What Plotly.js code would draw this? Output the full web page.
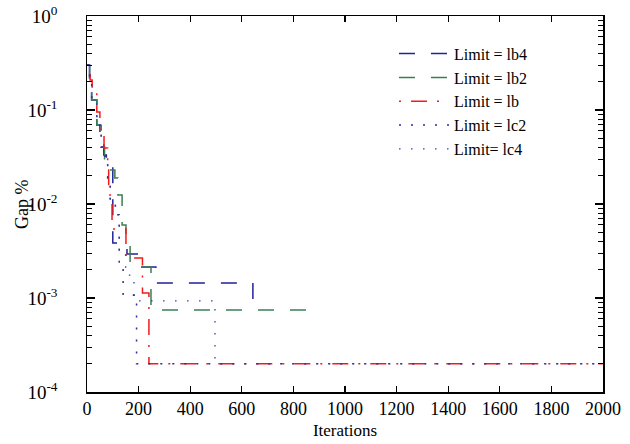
<!DOCTYPE html>
<html>
<head>
<meta charset="utf-8">
<script src="https://cdn.plot.ly/plotly-3.0.1.min.js"></script>
<style>html,body{margin:0;padding:0;background:#fff;}#chart{width:630px;height:444px;}</style>
</head>
<body>
<div id="chart"></div>
<script>
// Data
const names = ["Limit = lb4", "Limit = lb2", "Limit = lb", "Limit = lc2", "Limit= lc4"];

const lb4Iter = [0, 10, 18, 38, 50, 65, 75, 100, 155, 200, 267, 643, 680];
const lb4Gap  = [0.301, 0.209, 0.128, 0.069, 0.0542, 0.0332, 0.026, 0.00385, 0.00294, 0.00214, 0.00144, 0.000863, 0.000863];

const lb2Iter = [0, 10, 18, 38, 55, 68, 80, 108, 120, 136, 151, 167, 248, 900];
const lb2Gap  = [0.301, 0.209, 0.128, 0.069, 0.0403, 0.0294, 0.023, 0.0189, 0.0125, 0.00598, 0.00446, 0.00214, 0.000745, 0.000745];

const lbIter = [0, 12, 20, 38, 50, 66, 80, 84, 97, 151, 215, 240, 2000];
const lbGap  = [0.301, 0.209, 0.152, 0.0952, 0.0612, 0.0394, 0.026, 0.0125, 0.00542, 0.00267, 0.00113, 0.0002, 0.0002];

const lc2Iter = [0, 10, 18, 38, 55, 70, 80, 90, 110, 125, 140, 192, 2000];
const lc2Gap  = [0.301, 0.209, 0.128, 0.069, 0.0403, 0.0309, 0.0189, 0.0105, 0.0077, 0.00241, 0.00107, 0.0002, 0.0002];

const lc4Iter = [0, 10, 18, 38, 55, 70, 80, 90, 110, 125, 150, 182, 496, 2000];
const lc4Gap  = [0.301, 0.209, 0.128, 0.069, 0.0403, 0.0309, 0.0189, 0.0105, 0.0077, 0.00286, 0.00175, 0.00093, 0.0002, 0.0002];

const xTicks = [0, 200, 400, 600, 800, 1000, 1200, 1400, 1600, 1800, 2000];
const yTickVals = [1e-4, 1e-3, 1e-2, 1e-1, 1];
const yTickText = ["10<sup>-4</sup>", "10<sup>-3</sup>", "10<sup>-2</sup>", "10<sup>-1</sup>", "10<sup>0</sup>"];
const yTitle = "Gap %";

// minor tick positions: digits 2..9 inside each decade
const yMinorVals = [];
[1e-4, 1e-3, 1e-2, 1e-1].forEach(d => { for (let k = 2; k <= 9; k++) yMinorVals.push(d * k); });

const FONT = "Liberation Serif, Times New Roman, serif";
const PAD = "\u2002\u2002\u2002";

const traces = [
  {x: lb4Iter, y: lb4Gap, name: names[0], line: {color: "#22229a", width: 1.5, dash: "16px,16px", shape: "hv"}},
  {x: lb2Iter, y: lb2Gap, name: names[1], line: {color: "#3b7d55", width: 1.5, dash: "16px,16px", shape: "hv"}},
  {x: lbIter,  y: lbGap,  name: names[2], line: {color: "#f01c1c", width: 1.5, dash: "2px,10px,16px,10px", shape: "hv"}},
  {x: lc2Iter, y: lc2Gap, name: names[3], line: {color: "#2a2aa0", width: 1.5, dash: "2px,10px", shape: "hv"}},
  {x: lc4Iter, y: lc4Gap, name: names[4], line: {color: "#3a3aa8", width: 1.3, dash: "1.5px,10.5px", shape: "hv"}}
].map(t => Object.assign({type: "scatter", mode: "lines"}, t));

// empty helper traces so the label axis (y2) and minor-tick axis (y3) are drawn
traces.push({type: "scatter", mode: "lines", x: [null], y: [null], yaxis: "y2", showlegend: false, hoverinfo: "skip"});
traces.push({type: "scatter", mode: "lines", x: [null], y: [null], yaxis: "y3", showlegend: false, hoverinfo: "skip"});

const layout = {
  width: 630, height: 444,
  margin: {l: 87, r: 27, t: 16, b: 52},
  paper_bgcolor: "#fff", plot_bgcolor: "#fff",
  font: {family: FONT, size: 18, color: "#000"},
  showlegend: true,
  legend: {x: 0.595, y: 0.945, xanchor: "left", yanchor: "top", bgcolor: "rgba(0,0,0,0)",
           font: {family: FONT, size: 16, color: "#000"}, tracegroupgap: 0, itemwidth: 50},
  xaxis: {
    range: [0, 2000], tickvals: xTicks, ticks: "inside", ticklen: 6, tickcolor: "#000", tickwidth: 1.3,
    showline: true, linecolor: "#000", linewidth: 1.5, mirror: "ticks", showgrid: false, zeroline: false,
    title: {text: "Iterations", font: {family: FONT, size: 17}, standoff: 6},
    tickfont: {family: FONT, size: 18}
  },
  yaxis: {
    type: "log", range: [-4, 0], tickvals: yTickVals, showticklabels: false,
    ticks: "inside", ticklen: 8, tickcolor: "#000", tickwidth: 1.3,
    showline: true, linecolor: "#000", linewidth: 1.5, mirror: "ticks", showgrid: false, zeroline: false
  },
  yaxis3: {
    type: "log", range: [-4, 0], overlaying: "y", side: "left", tickvals: yMinorVals,
    showticklabels: false, ticks: "inside", ticklen: 5, tickcolor: "#000", tickwidth: 1.2,
    showline: false, mirror: "ticks", showgrid: false, zeroline: false
  },
  yaxis2: {
    type: "log", range: [-4, 0], overlaying: "y", side: "left",
    tickvals: yTickVals, ticktext: yTickText.map(t => t + PAD), ticks: "", showline: false, showgrid: false, zeroline: false,
    tickfont: {family: FONT, size: 19}
  },
  annotations: [{
    text: yTitle, xref: "paper", yref: "paper", x: -0.126, y: 0.5, xanchor: "center", yanchor: "middle",
    textangle: -90, showarrow: false, font: {family: FONT, size: 18, color: "#000"}
  }]
};

Plotly.newPlot("chart", traces, layout, {staticPlot: true, displayModeBar: false});
</script>
</body>
</html>
